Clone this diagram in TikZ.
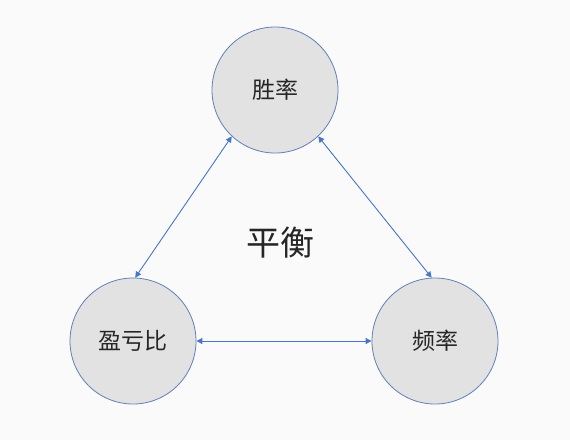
\documentclass[tikz,border=0pt]{standalone}
\usepackage{fontspec}
\newfontfamily\cjk{Noto Sans CJK SC}
\usetikzlibrary{arrows.meta}

\definecolor{ringblue}{RGB}{98,128,184}
\definecolor{arrowblue}{RGB}{70,118,200}
\definecolor{ballgray}{RGB}{226,226,226}
\definecolor{paper}{RGB}{250,250,250}

\tikzset{every picture/.style={line width=0.75pt}}
\tikzset{
  ball/.style={circle, draw=ringblue, fill=ballgray, line width=0.8pt,
    minimum size=126pt, inner sep=0pt, font=\cjk\fontsize{23}{23}\selectfont, text=black!85},
  link/.style={draw=arrowblue, line width=0.9pt, {Triangle[length=6pt,width=6pt]}-{Triangle[length=6pt,width=6pt]}}
}

\begin{document}
\begin{tikzpicture}[x=1pt,y=1pt,yscale=-1,xscale=1]
%set diagram to the size of the reference
\useasboundingbox [fill=paper] (0,0) rectangle (570,440);

%Shape: Circle [winrate]
\node (winrate) [ball] at (275,90) {胜率};
%Shape: Circle [payoff]
\node (payoff) [ball] at (133,341) {盈亏比};
%Shape: Circle [freq]
\node (freq) [ball] at (435,341) {频率};

%Straight Lines
\draw [link] (winrate.227) -- (payoff.88);
%Straight Lines
\draw [link] (winrate.313) -- (freq.93);
%Straight Lines
\draw [link] (payoff.east) -- (freq.west);

% Text Node
\node (balance) [font=\cjk\fontsize{34}{34}\selectfont, text=black!85] at (280,243) {平衡};

\end{tikzpicture}
\end{document}
